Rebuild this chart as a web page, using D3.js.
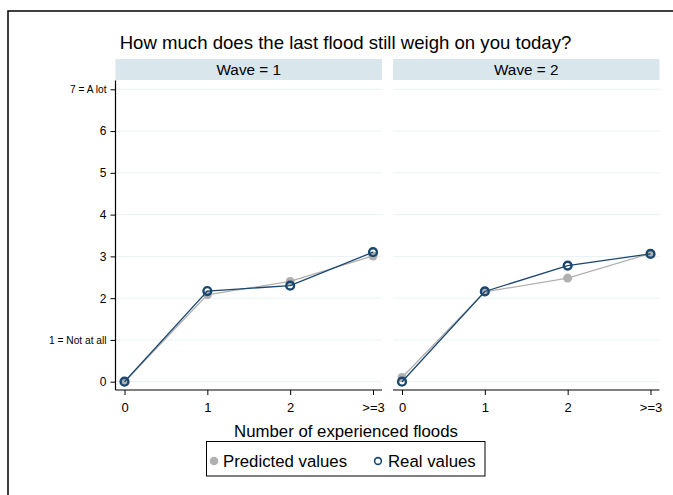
<!DOCTYPE html>
<html><head><meta charset="utf-8">
<script src="https://cdn.jsdelivr.net/npm/d3@7"></script>
<style>body{margin:0;background:#fff;} svg{display:block;font-family:"Liberation Sans",Arial,sans-serif;}</style>
</head><body>
<script>
const categories = ["0", "1", "2", ">=3"];
const waves = ["Wave = 1", "Wave = 2"];
const predictedW1 = [0, 2.08, 2.40, 3.01];
const realW1 = [0, 2.17, 2.30, 3.10];
const predictedW2 = [0.10, 2.15, 2.48, 3.07];
const realW2 = [0, 2.16, 2.78, 3.06];
const yTicks = [0, 1, 2, 3, 4, 5, 6, 7];
const yTickLabels = ["0", "1 = Not at all", "2", "3", "4", "5", "6", "7 = A lot"];
const title = "How much does the last flood still weigh on you today?";
const xTitle = "Number of experienced floods";
const legendLabels = ["Predicted values", "Real values"];

const W = 673, H = 495;
const navy = "#1a476f", gray = "#b0b0b0";
const svg = d3.select("body").append("svg").attr("width", W).attr("height", H);
svg.append("rect").attr("x", 0).attr("y", 0).attr("width", W).attr("height", H).attr("fill", "#fff");
svg.append("rect").attr("x", 8).attr("y", 11).attr("width", 700).attr("height", 520)
  .attr("fill", "#fff").attr("stroke", "#000").attr("stroke-width", 1.5);

svg.append("text").attr("x", 345.5).attr("y", 49).attr("text-anchor", "middle")
  .attr("font-size", 18.6).attr("fill", "#000").text(title);

const y = d3.scaleLinear().domain([0, 7]).range([381.7, 89.3]);
const panels = [
  {x0: 115.5, x1: 382, pred: predictedW1, real: realW1},
  {x0: 393, x1: 659.5, pred: predictedW2, real: realW2}
];
const axisTop = 80.5, axisBottom = 390;

panels.forEach((p, i) => {
  const x = d3.scalePoint().domain(categories).range([p.x0 + 9, p.x1 - 9]);
  const g = svg.append("g");
  g.append("rect").attr("x", p.x0).attr("y", 59).attr("width", p.x1 - p.x0).attr("height", 21).attr("fill", "#d9e6ec");
  g.append("text").attr("x", (p.x0 + p.x1) / 2).attr("y", 75).attr("text-anchor", "middle")
    .attr("font-size", 15.3).attr("fill", "#000").text(waves[i]);
  g.selectAll(".grid").data(yTicks).enter().append("line")
    .attr("x1", p.x0).attr("x2", p.x1).attr("y1", d => y(d)).attr("y2", d => y(d))
    .attr("stroke", "#eaf2f3").attr("stroke-width", 1);
  const xa = g.append("g").attr("transform", `translate(0,${axisBottom})`)
    .call(d3.axisBottom(x).tickSize(5).tickPadding(8));
  xa.select(".domain").attr("d", `M${p.x0},0H${p.x1}`).attr("stroke", "#000").attr("stroke-width", 1.2);
  xa.selectAll("text").attr("font-size", 13).attr("font-family", "Liberation Sans, Arial, sans-serif").attr("fill", "#000");
  xa.selectAll(".tick line").attr("stroke", "#000");
  if (i === 0) {
    const ya = g.append("g").attr("transform", `translate(${p.x0},0)`)
      .call(d3.axisLeft(y).tickValues(yTicks).tickFormat((d, k) => yTickLabels[k]).tickSize(5).tickPadding(4));
    ya.select(".domain").attr("d", `M0,${axisTop}V${axisBottom}`).attr("stroke", "#000").attr("stroke-width", 1.2);
    ya.selectAll("text").attr("font-size", d => (d === 1 || d === 7) ? 10.2 : 12)
      .attr("font-family", "Liberation Sans, Arial, sans-serif").attr("fill", "#000");
    ya.selectAll(".tick line").attr("stroke", "#000");
  }
  const line = d3.line().x((d, k) => x(categories[k])).y(d => y(d));
  g.append("path").datum(p.pred).attr("d", line).attr("fill", "none").attr("stroke", gray).attr("stroke-width", 1.3);
  g.selectAll(".pp").data(p.pred).enter().append("circle")
    .attr("cx", (d, k) => x(categories[k])).attr("cy", d => y(d)).attr("r", 4.5).attr("fill", gray);
  g.append("path").datum(p.real).attr("d", line).attr("fill", "none").attr("stroke", navy).attr("stroke-width", 1.3);
  g.selectAll(".rp").data(p.real).enter().append("circle")
    .attr("cx", (d, k) => x(categories[k])).attr("cy", d => y(d)).attr("r", 3.9)
    .attr("fill", "none").attr("stroke", navy).attr("stroke-width", 2.4);
});

svg.append("text").attr("x", 346).attr("y", 437).attr("text-anchor", "middle")
  .attr("font-size", 16.8).attr("fill", "#000").text(xTitle);

const lg = svg.append("g");
lg.append("rect").attr("x", 206.5).attr("y", 441.5).attr("width", 278.5).attr("height", 34.5)
  .attr("fill", "#fff").attr("stroke", "#000").attr("stroke-width", 1);
lg.append("circle").attr("cx", 214).attr("cy", 461).attr("r", 4.3).attr("fill", gray);
lg.append("text").attr("x", 223).attr("y", 467).attr("font-size", 16.8).attr("fill", "#000").text(legendLabels[0]);
lg.append("circle").attr("cx", 378).attr("cy", 461).attr("r", 3.4).attr("fill", "none").attr("stroke", navy).attr("stroke-width", 1.6);
lg.append("text").attr("x", 388).attr("y", 467).attr("font-size", 16.8).attr("fill", "#000").text(legendLabels[1]);
</script>
</body></html>
